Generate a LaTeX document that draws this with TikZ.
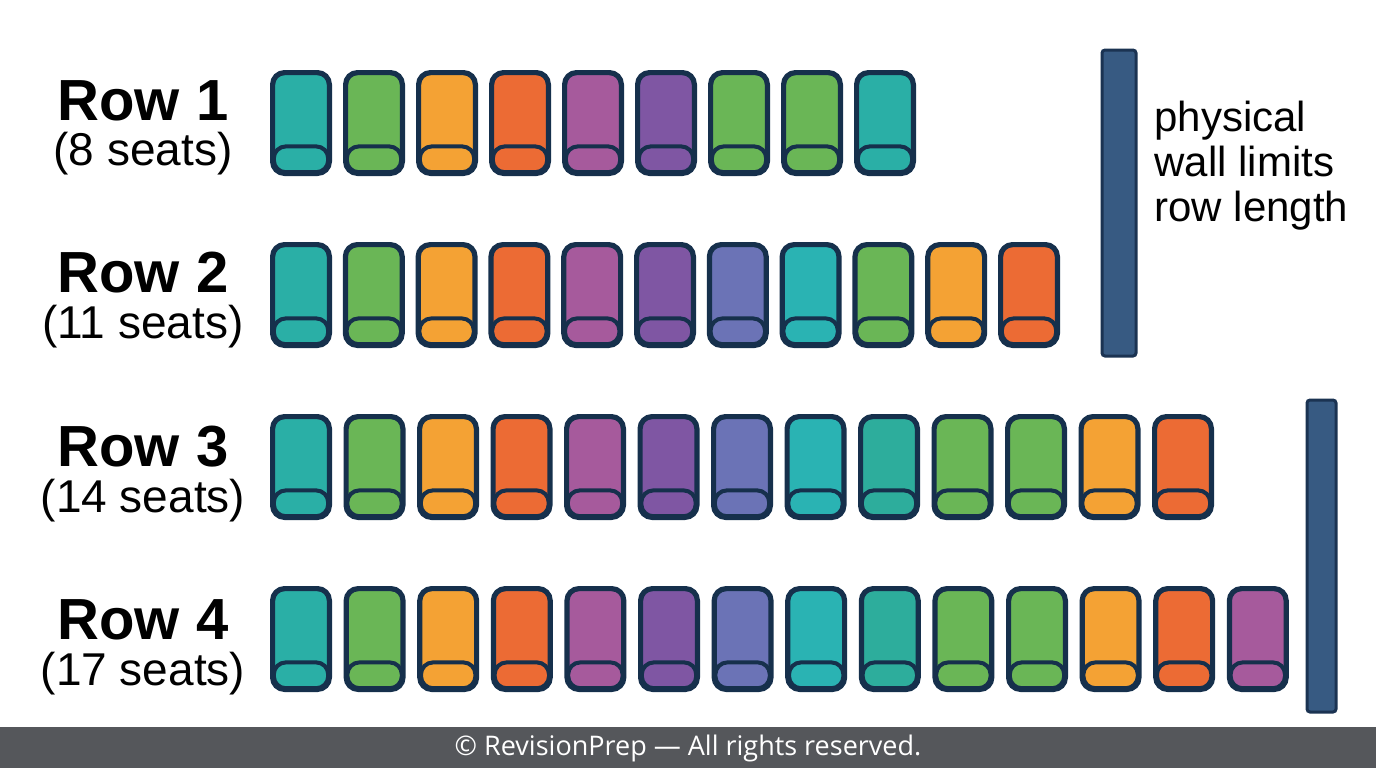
\documentclass[tikz,border=0pt]{standalone}
\usepackage{fontspec}
\setmainfont{Liberation Sans}
\newfontfamily\footfont{Open Sans}
\usepackage{xcolor}
\usepackage{tikz}
\usetikzlibrary{calc,positioning}

\definecolor{seatline}{HTML}{16304C}
\definecolor{cteal}{HTML}{2AAFA6}
\definecolor{cgreen}{HTML}{6AB656}
\definecolor{corange}{HTML}{F4A234}
\definecolor{cred}{HTML}{EC6B34}
\definecolor{cmagenta}{HTML}{A65A9C}
\definecolor{cpurple}{HTML}{7F56A3}
\definecolor{cindigo}{HTML}{6B73B6}
\definecolor{ccyan}{HTML}{2AB3B3}
\definecolor{cteald}{HTML}{2DAD9C}
\definecolor{wallfill}{HTML}{375A82}
\definecolor{wallline}{HTML}{1B3352}
\definecolor{footbg}{HTML}{55575B}

\tikzset{
  seat/.style={draw=seatline, line width=2.6pt, rounded corners=6pt, fill=#1,
    minimum width=28.4pt, minimum height=50.4pt, inner sep=0pt,
    path picture={\draw[seatline, line width=2pt, fill=#1, rounded corners=6pt]
      ([xshift=0.6pt,yshift=0.6pt]path picture bounding box.south west) rectangle
      ([xshift=-0.6pt,yshift=13.5pt]path picture bounding box.south east);}},
  rowname/.style={font=\fontsize{29}{34}\selectfont\bfseries, inner sep=0pt},
  rowcount/.style={font=\fontsize{23}{27}\selectfont, inner sep=0pt},
  wall/.style={draw=wallline, fill=wallfill, line width=1.5pt, rounded corners=1.5pt},
}

\begin{document}
\begin{tikzpicture}[x=0.5pt,y=-0.5pt]
  \useasboundingbox (0,0) rectangle (1376,768);
  \fill[white] (0,0) rectangle (1376,768);

  % labels of the rows
  \node[rowname]  (r1) at (143,101) {Row 1};
  \node[rowcount] (n1) at (143,154) {(8 seats)};
  \node[rowname]  (r2) at (143,273) {Row 2};
  \node[rowcount] (n2) at (143,327) {(11 seats)};
  \node[rowname]  (r3) at (143,447) {Row 3};
  \node[rowcount] (n3) at (143,501) {(14 seats)};
  \node[rowname]  (r4) at (143,620) {Row 4};
  \node[rowcount] (n4) at (143,674) {(17 seats)};

  % seats, one loop per row
  \foreach \c [count=\i from 0] in {cteal,cgreen,corange,cred,cmagenta,cpurple,cgreen,cgreen,cteal}
    \node[seat=\c] (s1-\i) at (301+73*\i,123) {};
  \foreach \c [count=\i from 0] in {cteal,cgreen,corange,cred,cmagenta,cpurple,cindigo,ccyan,cgreen,corange,cred}
    \node[seat=\c] (s2-\i) at (301+72.8*\i,295) {};
  \foreach \c [count=\i from 0] in {cteal,cgreen,corange,cred,cmagenta,cpurple,cindigo,ccyan,cteald,cgreen,cgreen,corange,cred}
    \node[seat=\c] (s3-\i) at (301+73.5*\i,467) {};
  \foreach \c [count=\i from 0] in {cteal,cgreen,corange,cred,cmagenta,cpurple,cindigo,ccyan,cteald,cgreen,cgreen,corange,cred,cmagenta}
    \node[seat=\c] (s4-\i) at (301+73.6*\i,639) {};

  % the walls
  \draw[wall] (1102,50) rectangle (1136,356);
  \draw[wall] (1307,400) rectangle (1336,712);
  \node[anchor=west, align=left, inner sep=0pt,
        font=\fontsize{21}{22.5}\selectfont] (note) at (1154,166)
        {physical\\wall limits\\row length};

  % footer band
  \fill[footbg] (0,727) rectangle (1376,768);
  \node[text=white, font=\footfont\fontsize{13.5}{16}\selectfont] (foot) at (688,748)
        {© RevisionPrep — All rights reserved.};
\end{tikzpicture}
\end{document}
